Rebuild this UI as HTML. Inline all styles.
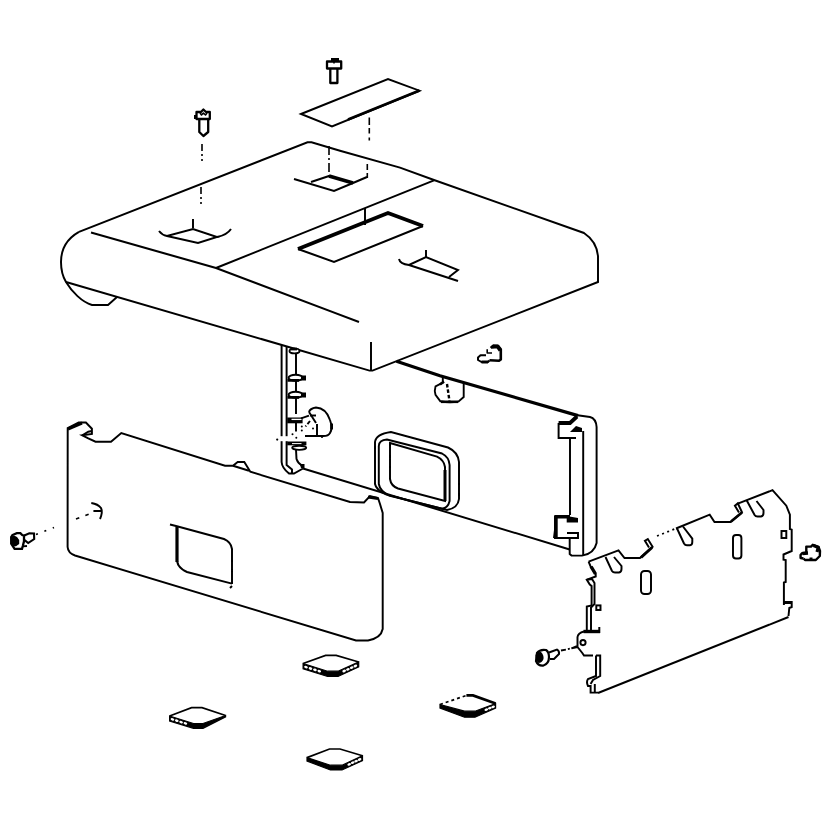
<!DOCTYPE html>
<html>
<head>
<meta charset="utf-8">
<title>Exploded view</title>
<style>
html,body{margin:0;padding:0;background:#fff;}
body{width:835px;height:835px;overflow:hidden;font-family:"Liberation Sans",sans-serif;}
svg{display:block;}
.l{fill:none;stroke:#000;stroke-width:1.95;stroke-linecap:butt;stroke-linejoin:miter;}
.t{fill:none;stroke:#000;stroke-width:3.8;stroke-linecap:butt;stroke-linejoin:miter;}
.f{fill:#000;stroke:none;}
.w{fill:#fff;stroke:#000;stroke-width:1.9;}
</style>
</head>
<body>
<svg width="835" height="835" viewBox="0 0 835 835">
<defs><filter id="soft" x="0" y="0" width="835" height="835" filterUnits="userSpaceOnUse"><feGaussianBlur stdDeviation="0.45"/></filter></defs>
<rect width="835" height="835" fill="#fff"/>
<g id="drawing" filter="url(#soft)">

<!-- ===== top cover ===== -->
<g id="cover" class="l">
  <path d="M79,231.8 L307.5,142.3 L311.5,142.3 L340,150.7 L400,167.6 L434,180 L584,233 C590,237 597,245 598,256 L598,282 L372.5,370.6 L369.5,370.6 L66,282"/>
  <path d="M79,231.8 C68,238 61,248 61,262 C61,270 63,277 66,282 C72,292 82,302 92,305 L108,305 L117,297"/>
  <path d="M91,232.5 L216,268 L359,322"/>
  <path d="M216,268 L434,180.3"/>
  <path d="M371,342 L371,371"/>
  <!-- left recess -->
  <path d="M159,231 Q162,235 167,236 L193,229 L217,237 L198,243 L167,236"/>
  <path d="M217,237 Q227,235 231,229"/>
  <path d="M193,219 L193,228"/>
  <!-- right recess -->
  <path d="M294,179 L334,191 L353,183 L367,177"/>
  <path d="M311,182 L329,176"/>
  <!-- small recess -->
  <path d="M399,259 Q400,264 409,265 L426,257 L458,270 L449,277"/>
  <path d="M409,265 L458,281"/>
  <path d="M426,250 L426,257"/>
  <!-- window -->
  <path d="M423,226 L334,262 L298,249"/>
  <path d="M365,208 L365,225"/>
</g>
<g class="t">
  <path d="M298,249 L388,213 L423,226"/>
  <path d="M329,176 L353,183"/>
</g>

<!-- plate -->
<g class="l">
  <path d="M301,114 L388,79 L419.5,90.7 L332,126.5 Z"/>
</g>
<path class="t" d="M348,119.5 L419.5,90.5" style="stroke-width:2.6"/>

<!-- dashed guide lines -->
<g class="l" style="stroke-width:1.6">
  <path d="M202,144 L202,161" stroke-dasharray="7 3 2 3"/>
  <path d="M201,187 L201,204" stroke-dasharray="7 3 2 3"/>
  <path d="M329,146 L329,176" stroke-dasharray="9 3 2 3"/>
  <path d="M369.3,117.5 L369.3,141" stroke-dasharray="7.5 3 5.5 4 3 10"/>
  <path d="M367.3,164 L367.3,178" stroke-dasharray="6 3 8 3"/>
</g>

<!-- screws top -->
<g class="l" style="stroke-width:2.3;stroke-linejoin:round">
  <path d="M196.5,112 L201,112 L203.4,109.5 L206,112 L209.8,112 L209.8,119 L196.5,119 Z"/>
  <path d="M195.3,115 L195.3,119" style="stroke-width:2.6"/>
  <path d="M199.3,119 L199.3,132 L203.4,136 L208.2,132 L208.2,119"/>
  <path d="M200,113 L201.5,115 L203.4,113 L205.5,115 L207,113" style="stroke-width:1.6"/>
  <path d="M327,61.5 L341.2,61.5 L341.2,68.5 L327,68.5 Z"/>
  <path d="M331,59.5 L339,59.5" style="stroke-width:3"/>
  <path d="M330.3,69 L330.3,83 L337.4,83 L337.4,69"/>
  <path d="M334,61.5 L334,63.5" style="stroke-width:1.6"/>
</g>

<!-- ===== back panel ===== -->
<g id="back" class="l">
  <!-- left end -->
  <path d="M281.6,345 L281.6,462 Q282,468 289,473.5 L294,473.5 L303,468.5"/>
  <path d="M286.6,347 L286.6,465 L292,469.5 L292,473.5"/>
  <path d="M296,353 L296,414"/>
  <path d="M296,449.5 L296.5,459 Q298,463.5 302,465.5"/>
  <path d="M299.7,464 L304.5,464 L304.5,468 L301,468 Z" style="fill:#000;stroke:none"/>
  <!-- bottom edge -->
  <path d="M303,468.5 L569.7,549.5"/>
  <!-- right end -->
  <path d="M577.5,415.3 L590,417 Q596,418.5 596.6,427 L596.6,543 Q594,554 582,555.6 L571.5,555.6 L569.7,554 L569.7,538"/>
  <path d="M583.2,431 L583.2,555.4"/>
  <path d="M570,439 L570,515"/>
  <!-- bracket top -->
  <path d="M576,438 L558.6,438 L558.6,423"/>
  <!-- bracket bottom -->
  <path d="M567,538 L555,538 L555,516"/>
  <path d="M567,533 L578,533 L578,538 L567,538"/>
  <!-- small top tab -->
  <ellipse class="w" cx="294.5" cy="351" rx="5" ry="2.4"/>
  <path d="M290.5,349 L297,349" style="stroke-width:2.8"/>
  <!-- tabs -->
  <ellipse class="w" cx="295.6" cy="377.8" rx="7" ry="3.1"/>
  <ellipse class="w" cx="295.6" cy="394.8" rx="7" ry="3.1"/>
  <path d="M296,423 L296,431.5"/>
  <path d="M287.2,417.5 L302.6,417.5 L302.6,423.3 L287.2,423.3 Z" style="fill:#000;stroke:none"/>
  <path d="M291.5,419.4 L301.6,419.4" style="stroke:#fff;stroke-width:1.3"/>
  <path d="M301,418.3 L309,415.6"/>
  <ellipse class="w" cx="299.2" cy="447.8" rx="7" ry="2.1"/>
  <!-- axis gap -->
  <rect x="279.5" y="436.2" width="9" height="5" style="fill:#fff;stroke:none"/>
  <g style="fill:#000;stroke:none">
    <circle cx="277.2" cy="439.6" r="1.1"/><circle cx="292.5" cy="434.3" r="1"/><circle cx="296.3" cy="437.8" r="1"/>
    <circle cx="301.8" cy="426.6" r="1"/><circle cx="301.8" cy="430.4" r="1"/><circle cx="313" cy="428.5" r="1"/><circle cx="322" cy="437" r="1.1"/>
  </g>
  <!-- knob left -->
  <path d="M309,412 Q310,408.5 316,407.5 Q326,408 330,420 Q333,428 330,433 Q328,436.5 322,436 L305,436"/>
  <path d="M309,412 L316,423 M317,424 L317,435"/>
  <path d="M310,421 L305.5,426.5" stroke-dasharray="4 2"/>
  <path d="M331.6,423.5 L331.6,429.5" style="stroke-width:2.8"/>
  <path d="M310,415.5 L316,415.5"/>
  <!-- knob right -->
  <path class="w" d="M442.8,376 L442.8,382.7 L435.5,386.5 Q434.2,390.5 435.5,394.7 L440.4,401.3 Q449,403.2 458.3,401.6 L463.7,397 L463.7,382.7"/>
  <path d="M447,384 L449.5,401" stroke-dasharray="3.5 2" style="stroke-width:2.4"/>
  <path d="M441,401.8 L458,401.8" style="stroke-width:2.6"/>
  <path d="M440,384.5 L444,381.5" style="stroke-width:2.6"/>
  <!-- window frame -->
  <path d="M375,442 Q376,434 391,432 L448,447.5 Q458,452 459,462 L459,499 Q458,508 447,510 L386.5,494.7 Q376,490 375,484 Z"/>
  <path d="M378.8,446 Q379,440 387,439.5 L442,453.5 Q449,457 449.6,465 L449.6,501 Q448,508 442,508.7 L389,495.5 Q380,491 378.8,484 Z"/>
  <path d="M390,443 L437,456.6 Q444,460 445,467 L445,501 L398,488.5 Q391,486 390,479 Z"/>
</g>
<g class="t">
  <path d="M396.5,361.3 L440,375.7 L578,415.6" style="stroke-width:3.2"/>
  <path d="M558.6,423 L570,423 L577,416.5"/>
  <path d="M556,538 L556,516.8 L570,516.8" style="stroke-width:3.4"/>
  <path d="M445,470 L445,501" style="stroke-width:3"/>
  <path d="M287.5,380.3 L299,380.3 M287.5,397.3 L299,397.3" style="stroke-width:2.8"/>
  <path d="M287.2,443.4 L306.4,443.4" style="stroke-width:3.8"/>
  <path d="M292,443.6 L301.5,443.6" style="stroke:#fff;stroke-width:1"/>
</g>
<path class="f" d="M570,432 L576,426 L582,428 L582,432 Z"/>
<path class="f" d="M566.7,516 L578,518 L578,522.5 L566.7,522.5 Z"/>
<path class="f" d="M301,375.5 L306,375.5 L306,380.5 L301,380.5 Z M301,392.5 L306,392.5 L306,397.5 L301,397.5 Z"/>
<path class="f" d="M554,530 L557,530 L557,538 L553,538 Z"/>

<!-- small screw near back panel top -->
<g class="l" style="stroke-width:2;stroke-linejoin:round">
  <path d="M490.7,348 L493.3,345.6 L498,345.8 L500.8,349.3 L500.8,359.5 L499,360.8 L489.5,360.3" style="stroke-width:2.6"/>
  <path d="M492,347 L497.5,346.5 L500.3,350.5" style="stroke-width:3.6"/>
  <path d="M486,355.3 L480.5,355.3 L478,357.5 L478,360 L481.5,362 L488,362 L489.5,360.3"/>
  <path d="M481.5,362 L488,362" style="stroke-width:3"/>
  <path d="M487.2,349.2 L487.2,353 L492,353" style="stroke-width:1.6"/>
</g>

<!-- ===== left panel ===== -->
<g id="leftpanel" class="l">
  <path d="M67.7,428.1 L78.7,422.5 L85.9,422.5 L91.9,428.7 L91.9,434 L82.3,435.3 L88.3,438.3 L95.5,441.7 L111,441.7 L121.3,433 L225,465.7 L233,465.7 L237.7,462 L244.3,462 L250.3,471.7 L350,502 L364,502.5 L370,496 L378,498 L380,504 L382.7,513 L382.7,629 Q381,638 368,640.5 L356,640.5 L75,555.5 Q68,553 67.6,547 Z"/>
  <path d="M233,465.7 L249,470.8"/>
  <path d="M82.3,435.3 L88.3,431.7 L91.9,431"/>
  <!-- window -->
  <path d="M170,524.5 L176,526 L224,539 Q231,542 232,549 L232,584 M232,583.6 L187,572 Q178,568 177,561"/>
  <path d="M230,588 L232,586"/>
  <!-- arc + guide -->
  <path d="M91.3,503 Q98,504 101,508 Q103,512 100,519"/>
  <path d="M93.4,511 L102,511"/>
</g>
<g class="t">
  <path d="M177,527 L177,562" style="stroke-width:3.2"/>
  <path d="M68,429 L82,423" style="stroke-width:3"/>
  <path d="M368,497 L378,498.5" style="stroke-width:3"/>
</g>
<g class="l" style="stroke-width:1.8">
  <path d="M36,534.5 L54,527.5" stroke-dasharray="2 7"/>
  <path d="M76,519 L92,513" stroke-dasharray="3.5 6.5"/>
</g>
<!-- left screw -->
<g style="stroke-linejoin:round">
  <path class="l" d="M12.6,535 L16.8,533.2 L20.4,533.2 L22.2,535 L24,535.6 L24,541.3 L22.8,546 L22,548.8 L14.6,548.8 L11.2,543.7 L11.2,537.2 Z" style="stroke-width:2.3"/>
  <path class="f" d="M11,537 L14,535.5 L17,537 L19.2,540 L19.2,544 L16,546.3 L13,546.5 L11,543.5 Z"/>
  <path class="l" d="M24.3,535.5 L29.3,533.3 L34,533.5 L34.2,539 L28.2,543 L24.6,540.2" style="stroke-width:2.1"/>
  <path class="l" d="M22.5,546.3 L27,546" style="stroke-width:1.8"/>
</g>

<!-- ===== right bracket ===== -->
<g id="rightpanel" class="l">
  <!-- top edge -->
  <path d="M588.6,561.7 L618.5,550.4 L624.5,558 L640,558 L652.6,546.8 L647.8,539 L644.9,540.8 L649,547.5"/>
  <path d="M676,528.5 L709.7,514.7 L714.5,522 L730.7,522 L742,512.3 L737.8,503.4 L734.9,505.7 L739,512.5"/>
  <path d="M737.8,503.6 L772.5,490.2 L786.3,505.7 L789.9,514.7 L789.9,529 L791.7,529.7 L791.7,551 L783.5,554.5 L783.5,559.6 L785.7,560 L785.7,582 L783.9,582.5 L783.9,605 M783.9,602 L791.7,602 L791.7,607 L789.3,608 L788.5,616"/>
  <!-- bottom edge -->
  <path d="M788.5,617 L598,693"/>
  <!-- slots -->
  <path d="M605.5,557 L612,571 Q613,572.5 615,572.5 L619,572.5 Q621.5,572 621.5,569 L621.5,566 L614,557"/>
  <path d="M676.8,528 L684,543.5 Q685,545.3 687,545.3 L690,545.3 Q692.3,545 692.3,542 L692.3,538.7 L683,526.5"/>
  <path d="M746.5,500 L754.6,515 Q755.5,516.5 757.5,516.5 L761,516.5 Q763.5,516 763.5,513 L763.5,510 L756.5,501"/>
  <rect x="641" y="571" width="10" height="23" rx="3.5"/>
  <rect x="733" y="535" width="8.4" height="23.4" rx="3"/>
  <rect x="781.5" y="531" width="4.8" height="7"/>
  <!-- left edge -->
  <path d="M588.6,561.7 L590.4,566 L595.7,574 L595.7,576.5 L586.8,579.7 L589.8,584.5 L591.6,586 L591.6,605.4 L586.8,606.5 L586.8,630"/>
  <path d="M586.8,579.7 L592,579 L594.5,583 L594.5,604 L591,607.5 L591,630"/>
  <rect x="596.3" y="605.4" width="4.2" height="4.6"/>
  <!-- tab -->
  <path d="M584,631.5 Q578,633 577.5,637 L577.5,646 L571.5,648.3 L577.5,647 L582.3,653 L584,655.5 L593,655.5"/>
  <circle cx="583" cy="642.6" r="2.6"/>
  <path d="M596,655.5 L596,676 L588,679 Q586,682 588,686 L590.6,686 L590.6,692.6 L598,692.6"/>
  <path d="M596,655.5 L600.2,655.5 L600.2,676 L593,680 L590.6,684 M594.8,684 L594.8,692.6"/>
</g>
<g class="t">
  <path d="M583.5,631.5 L600,631.5" style="stroke-width:3.4"/>
  <path d="M599.3,627 L599.3,633" style="stroke-width:2"/>
  <path d="M591,566.5 L595.5,574" style="stroke-width:3.4"/>
  <path d="M641,557.5 L652,547.5" style="stroke-width:3"/>
  <path d="M731,521.5 L742,512.5" style="stroke-width:2.6"/>
  <path d="M784,602.5 L792,602.5" style="stroke-width:3"/>
</g>
<g class="l" style="stroke-width:1.8">
  <path d="M657,536 L676,528.5" stroke-dasharray="2 3.5"/>
  <path d="M561,650.5 L572,648.3" stroke-dasharray="5 2 2 2"/>
</g>
<!-- bracket screw (lower-left) -->
<g>
  <path class="l" d="M537,653 Q540,649 546,650 Q549,652 549,657 Q549,664 543,665.7 Q538,666 536,661 Z" style="stroke-width:2.2"/>
  <path class="f" d="M535.5,655 Q537,651.5 541,652 Q544,655 543.5,659 Q542,663 538.5,663 Q535.5,661 535.5,655 Z"/>
  <path class="l" d="M549,652.5 L557,649.5 Q559.5,651 559,654 L554,659 L550,659" style="stroke-width:2"/>
</g>
<!-- right screw -->
<g class="l" style="stroke-width:2.4;stroke-linejoin:round">
  <path d="M806.3,553 L806.3,546.6 L811,546.6 L812.8,544.8 L818.5,546.8 L820,551 L819.8,556 L815.8,560 L805,560 L803.5,558.5"/>
  <path d="M813.5,545.5 L818.3,547.5 L817,552" style="stroke-width:3.2"/>
  <path d="M806.3,553 L802,553.3 L800.6,555 L800.6,558 L803.5,558.5"/>
  <path d="M802.5,553.5 L808,553" style="stroke-width:3.4"/>
  <path d="M809.5,559 L812.5,559" style="stroke-width:3"/>
</g>

<!-- ===== foot pads ===== -->
<g id="pads">
<path d="M169.6,716 L193.5,723.5 L203,723.5 L225.6,715.5 L225.6,717.0 L203,728.3 L193.5,728.3 L169.6,721 Z" style="fill:#000;stroke:#000;stroke-width:1.2"/>
<path class="l" style="stroke-width:1.7" d="M169.6,716 L191.6,707.7 L202,707.7 L225.6,715.5"/>
<ellipse cx="172.5" cy="719.4" rx="1.9" ry="1.25" fill="#fff" transform="rotate(18 172.5 719.4)"/>
<ellipse cx="176.8" cy="720.7" rx="1.9" ry="1.25" fill="#fff" transform="rotate(18 176.8 720.7)"/>
<ellipse cx="181.1" cy="722.1" rx="1.9" ry="1.25" fill="#fff" transform="rotate(18 181.1 722.1)"/>
<ellipse cx="185.4" cy="723.4" rx="1.9" ry="1.25" fill="#fff" transform="rotate(18 185.4 723.4)"/>
<path d="M303.1,663.5 L327.6,671.2 L338,671.2 L358.7,662 L358.7,666.9 L338,676.5 L327.6,676.5 L303.1,668.8 Z" style="fill:#000;stroke:#000;stroke-width:1.2"/>
<path class="l" style="stroke-width:1.7" d="M303.1,663.5 L325.6,655.4 L336.2,655.4 L358.7,662"/>
<ellipse cx="306.0" cy="667.1" rx="1.9" ry="1.25" fill="#fff" transform="rotate(18 306.0 667.1)"/>
<ellipse cx="310.5" cy="668.5" rx="1.9" ry="1.25" fill="#fff" transform="rotate(18 310.5 668.5)"/>
<ellipse cx="314.9" cy="669.8" rx="1.9" ry="1.25" fill="#fff" transform="rotate(18 314.9 669.8)"/>
<ellipse cx="319.3" cy="671.2" rx="1.9" ry="1.25" fill="#fff" transform="rotate(18 319.3 671.2)"/>
<ellipse cx="344.2" cy="671.0" rx="1.9" ry="1.25" fill="#fff" transform="rotate(-20 344.2 671.0)"/>
<ellipse cx="347.9" cy="669.3" rx="1.9" ry="1.25" fill="#fff" transform="rotate(-20 347.9 669.3)"/>
<ellipse cx="351.7" cy="667.6" rx="1.9" ry="1.25" fill="#fff" transform="rotate(-20 351.7 667.6)"/>
<ellipse cx="355.4" cy="666.0" rx="1.9" ry="1.25" fill="#fff" transform="rotate(-20 355.4 666.0)"/>
<path d="M307,757.6 L330.4,765.2 L342,765.2 L362.5,755.7 L362.5,760.7 L342,770.0 L330.4,770.0 L307,761.1 Z" style="fill:#000;stroke:#000;stroke-width:1.2"/>
<path class="l" style="stroke-width:1.7" d="M307,757.6 L329.5,749 L340,749 L362.5,755.7"/>
<ellipse cx="349.2" cy="764.3" rx="1.9" ry="1.25" fill="#fff" transform="rotate(-20 349.2 764.3)"/>
<ellipse cx="352.7" cy="762.7" rx="1.9" ry="1.25" fill="#fff" transform="rotate(-20 352.7 762.7)"/>
<ellipse cx="356.1" cy="761.1" rx="1.9" ry="1.25" fill="#fff" transform="rotate(-20 356.1 761.1)"/>
<ellipse cx="359.6" cy="759.5" rx="1.9" ry="1.25" fill="#fff" transform="rotate(-20 359.6 759.5)"/>
<path d="M440,704.5 L464.5,711.2 L475,711.2 L495.6,703.5 L495.6,708.0 L475,717.2 L464.5,717.2 L440,708.0 Z" style="fill:#000;stroke:#000;stroke-width:1.2"/>
<path class="l" style="stroke-width:1.7" stroke-dasharray="3 3" d="M440,704.5 L466.4,695.4"/>
<path class="l" style="stroke-width:2.8" d="M466.4,695.4 L473,695.4 L495.6,703.5"/>
<ellipse cx="486.3" cy="709.6" rx="1.9" ry="1.25" fill="#fff" transform="rotate(-20 486.3 709.6)"/>
<ellipse cx="489.8" cy="708.1" rx="1.9" ry="1.25" fill="#fff" transform="rotate(-20 489.8 708.1)"/>
<ellipse cx="493.1" cy="706.8" rx="1.9" ry="1.25" fill="#fff" transform="rotate(-20 493.1 706.8)"/>
</g>

</g>
</svg>
</body>
</html>
